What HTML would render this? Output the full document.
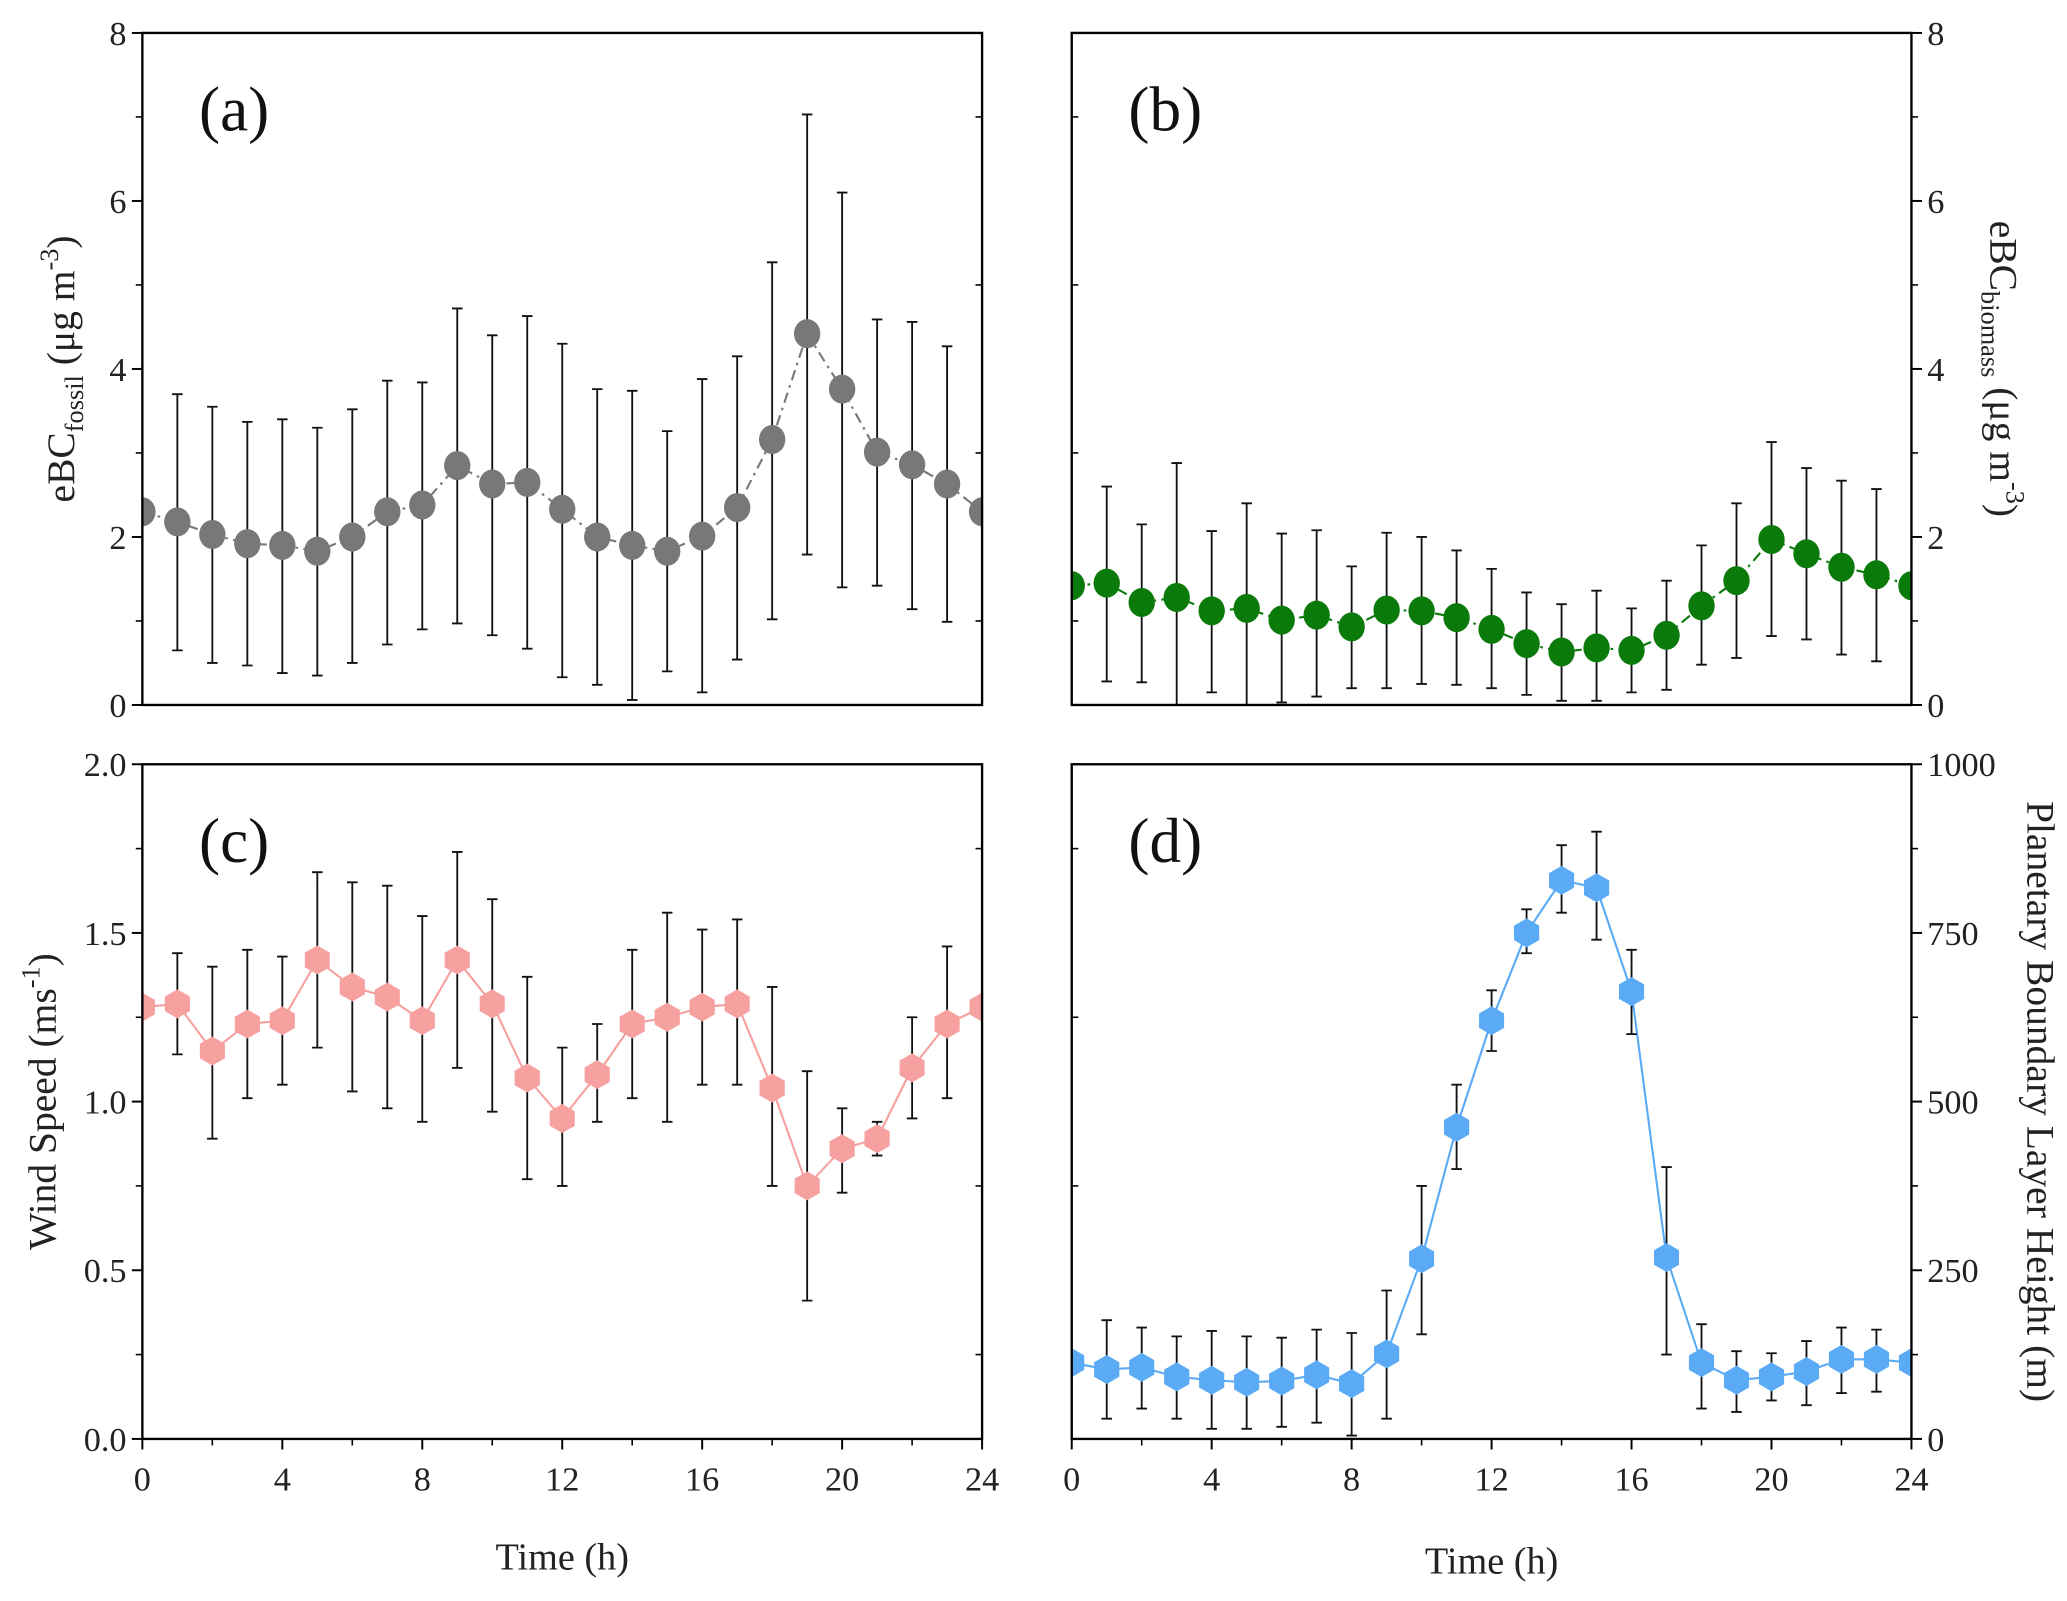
<!DOCTYPE html>
<html><head><meta charset="utf-8"><style>
html,body{margin:0;padding:0;background:#fff;}
svg{display:block;font-family:"Liberation Serif","DejaVu Serif",serif;}
</style></head><body>
<svg id="fig" width="2067" height="1601" viewBox="0 0 1568 1215" preserveAspectRatio="none" xmlns="http://www.w3.org/2000/svg">
<rect width="1568" height="1215" fill="#fff"/>
</svg>
<script>
// ---- data ----
const hours = [0,1,2,3,4,5,6,7,8,9,10,11,12,13,14,15,16,17,18,19,20,21,22,23,24];
const fossilMean = [2.3,2.18,2.03,1.92,1.9,1.83,2.0,2.3,2.38,2.85,2.63,2.65,2.33,2.0,1.9,1.83,2.01,2.35,3.16,4.42,3.76,3.01,2.86,2.63,2.3];
const fossilLow  = [null,0.65,0.5,0.47,0.38,0.35,0.5,0.72,0.9,0.97,0.83,0.67,0.33,0.24,0.06,0.4,0.15,0.54,1.02,1.79,1.4,1.42,1.14,0.99,null];
const fossilHigh = [null,3.7,3.55,3.37,3.4,3.3,3.52,3.86,3.84,4.72,4.4,4.63,4.3,3.76,3.74,3.26,3.88,4.15,5.27,7.03,6.1,4.59,4.56,4.27,null];
const biomassMean = [1.42,1.45,1.22,1.28,1.12,1.15,1.01,1.07,0.93,1.13,1.12,1.04,0.9,0.73,0.63,0.68,0.65,0.83,1.18,1.48,1.97,1.8,1.64,1.55,1.42];
const biomassLow  = [null,0.28,0.27,-0.1,0.15,-0.1,0.03,0.1,0.2,0.2,0.25,0.24,0.2,0.12,0.05,0.05,0.15,0.18,0.48,0.56,0.82,0.78,0.6,0.52,null];
const biomassHigh = [null,2.6,2.15,2.88,2.07,2.4,2.04,2.08,1.65,2.05,2.0,1.84,1.62,1.34,1.2,1.36,1.15,1.48,1.9,2.4,3.13,2.82,2.67,2.57,null];
const windMean = [1.28,1.29,1.15,1.23,1.24,1.42,1.34,1.31,1.24,1.42,1.29,1.07,0.95,1.08,1.23,1.25,1.28,1.29,1.04,0.75,0.86,0.89,1.1,1.23,1.28];
const windLow  = [null,1.14,0.89,1.01,1.05,1.16,1.03,0.98,0.94,1.1,0.97,0.77,0.75,0.94,1.01,0.94,1.05,1.05,0.75,0.41,0.73,0.84,0.95,1.01,null];
const windHigh = [null,1.44,1.4,1.45,1.43,1.68,1.65,1.64,1.55,1.74,1.6,1.37,1.16,1.23,1.45,1.56,1.51,1.54,1.34,1.09,0.98,0.94,1.25,1.46,null];
const pblMean = [113,103,106,92,87,84,86,95,82,126,267,462,620,750,828,817,663,269,113,87,92,100,118,118,113];
const pblLow  = [null,30,45,30,15,15,18,24,5,30,155,400,575,720,780,740,600,125,45,40,57,50,68,70,null];
const pblHigh = [null,176,165,152,160,152,150,162,157,220,375,525,665,785,880,900,725,403,170,130,127,145,165,162,null];
const xTicks = [0,4,8,12,16,20,24];
const yTicksA = [0,2,4,6,8];
const yTicksC = ["0.0","0.5","1.0","1.5","2.0"];
const yTicksD = [0,250,500,750,1000];

const NS="http://www.w3.org/2000/svg";
const svg=document.getElementById('fig');
function mk(tag,attrs,parent){const e=document.createElementNS(NS,tag);for(const k in attrs)e.setAttribute(k,attrs[k]);(parent||svg).appendChild(e);return e;}

function panel(cfg){
  const g=mk('g',{});
  
  
  const L=cfg.x0,R=cfg.x1,T=cfg.y0,B=cfg.y1;
  const sx=v=>L+(v-0)/24*(R-L);
  const sy=v=>B-(v-cfg.ymin)/(cfg.ymax-cfg.ymin)*(B-T);
  const right=cfg.right;
  const axX=right?R:L, dir=right?1:-1, oppX=right?L:R;
  cfg.yticks.forEach(t=>{
    const v=parseFloat(t);const y=sy(v);
    const tk=mk('line',{x1:axX,y1:y,x2:axX+dir*8,y2:y,stroke:'#000','stroke-width':1.5},g);
    
    
    const tx=mk('text',{x:axX+dir*12,y:y+9,'font-size':26,'text-anchor':right?'start':'end',fill:'#222'},g);
    tx.textContent=t;
    
    
  });
  for(let i=0;i<cfg.yticks.length-1;i++){
    const v=(parseFloat(cfg.yticks[i])+parseFloat(cfg.yticks[i+1]))/2;const y=sy(v);
    mk('line',{x1:axX,y1:y,x2:axX+dir*5,y2:y,stroke:'#000','stroke-width':1.2},g);
    mk('line',{x1:oppX,y1:y,x2:oppX+dir*5,y2:y,stroke:'#000','stroke-width':1.2},g);
  }
  if(cfg.xlabels){
    xTicks.forEach(t=>{
      const x=sx(t);
      const tk=mk('line',{x1:x,y1:B,x2:x,y2:B+8,stroke:'#000','stroke-width':1.5},g);
      
      
      const tx=mk('text',{x:x,y:B+39,'font-size':26,'text-anchor':'middle',fill:'#222'},g);
      tx.textContent=t;
      
      
      if(t<24) mk('line',{x1:sx(t+2),y1:B,x2:sx(t+2),y2:B+5,stroke:'#000','stroke-width':1.2},g);
    });
    const xt=mk('text',{x:(L+R)/2,y:cfg.xtitleY,'font-size':29,'text-anchor':'middle',fill:'#222'},g);
    xt.textContent='Time (h)';
    
    
  }
  const cid='clip-'+cfg.name;
  const cp=mk('clipPath',{id:cid},g);mk('rect',{x:L,y:T,width:R-L,height:B-T},cp);
  const dg=mk('g',{'clip-path':'url(#'+cid+')'},g);
  const pts=hours.map((h,i)=>sx(h)+','+sy(cfg.mean[i])).join(' ');
  const ln=mk('polyline',{points:pts,fill:'none',stroke:cfg.color,'stroke-width':1.6,'stroke-dasharray':cfg.dash||'none'},dg);
  
  
  hours.forEach((h,i)=>{
    if(cfg.low[i]==null)return;
    const x=sx(h),y1=sy(cfg.low[i]),y2=sy(cfg.high[i]);
    const eb=mk('path',{d:`M${x},${y1}V${y2}M${x-4},${y1}H${x+4}M${x-4},${y2}H${x+4}`,stroke:'#111','stroke-width':1.4,fill:'none'},dg);
    
    
  });
  hours.forEach((h,i)=>{
    const x=sx(h),y=sy(cfg.mean[i]);let m;
    if(cfg.hex){
      const r=11;let p=[];for(let k=0;k<6;k++){const a=Math.PI/3*k+Math.PI/6;p.push((x+r*Math.cos(a)).toFixed(1)+','+(y+r*Math.sin(a)).toFixed(1));}
      m=mk('polygon',{points:p.join(' '),fill:cfg.color},dg);
    } else m=mk('ellipse',{cx:x,cy:y,rx:10,ry:11,fill:cfg.color},dg);
    
    
  });
  const fr=mk('rect',{x:L,y:T,width:R-L,height:B-T,fill:'none',stroke:'#000','stroke-width':1.8},g);
  
  
  const pl=mk('text',{x:L+43,y:T+74,'font-size':48,fill:'#111'},g);
  pl.textContent=cfg.label;
  
  
  return g;
}
panel({name:'panel-a-fossil',x0:108,x1:745,y0:25,y1:535,ymin:0,ymax:8,yticks:yTicksA.map(String),mean:fossilMean,low:fossilLow,high:fossilHigh,color:'#787878',dash:'8 4 2 4',label:'(a)',right:false,xlabels:false});
panel({name:'panel-b-biomass',x0:813,x1:1450,y0:25,y1:535,ymin:0,ymax:8,yticks:yTicksA.map(String),mean:biomassMean,low:biomassLow,high:biomassHigh,color:'#0a7a0a',dash:'8 4 2 4',label:'(b)',right:true,xlabels:false});
panel({name:'panel-c-wind',x0:108,x1:745,y0:580,y1:1092,ymin:0,ymax:2,yticks:yTicksC,mean:windMean,low:windLow,high:windHigh,color:'#f6a0a0',label:'(c)',right:false,xlabels:true,xtitleY:1191,hex:true});
panel({name:'panel-d-pbl',x0:813,x1:1450,y0:580,y1:1092,ymin:0,ymax:1000,yticks:yTicksD.map(String),mean:pblMean,low:pblLow,high:pblHigh,color:'#5aaaf5',label:'(d)',right:true,xlabels:true,xtitleY:1194,hex:true});

function title(html,x,y,rot,name){
  const t=mk('text',{x:x,y:y,'font-size':30,'text-anchor':'middle',fill:'#222',transform:`rotate(${rot} ${x} ${y})`});
  t.innerHTML=html;
  
  
}
title('eBC<tspan font-size="20" dy="7">fossil</tspan><tspan dy="-7"> (μg m</tspan><tspan font-size="20" dy="-12">-3</tspan><tspan dy="12">)</tspan>',56,280,-90,'y-axis-title-fossil');
title('eBC<tspan font-size="20" dy="7">biomass</tspan><tspan dy="-7"> (μg m</tspan><tspan font-size="20" dy="-12">-3</tspan><tspan dy="12">)</tspan>',1510,280,90,'y-axis-title-biomass');
title('Wind Speed (ms<tspan font-size="20" dy="-12">-1</tspan><tspan dy="12">)</tspan>',42,836,-90,'y-axis-title-wind');
title('Planetary Boundary Layer Height (m)',1538,836,90,'y-axis-title-pbl');
</script>
</body></html>
